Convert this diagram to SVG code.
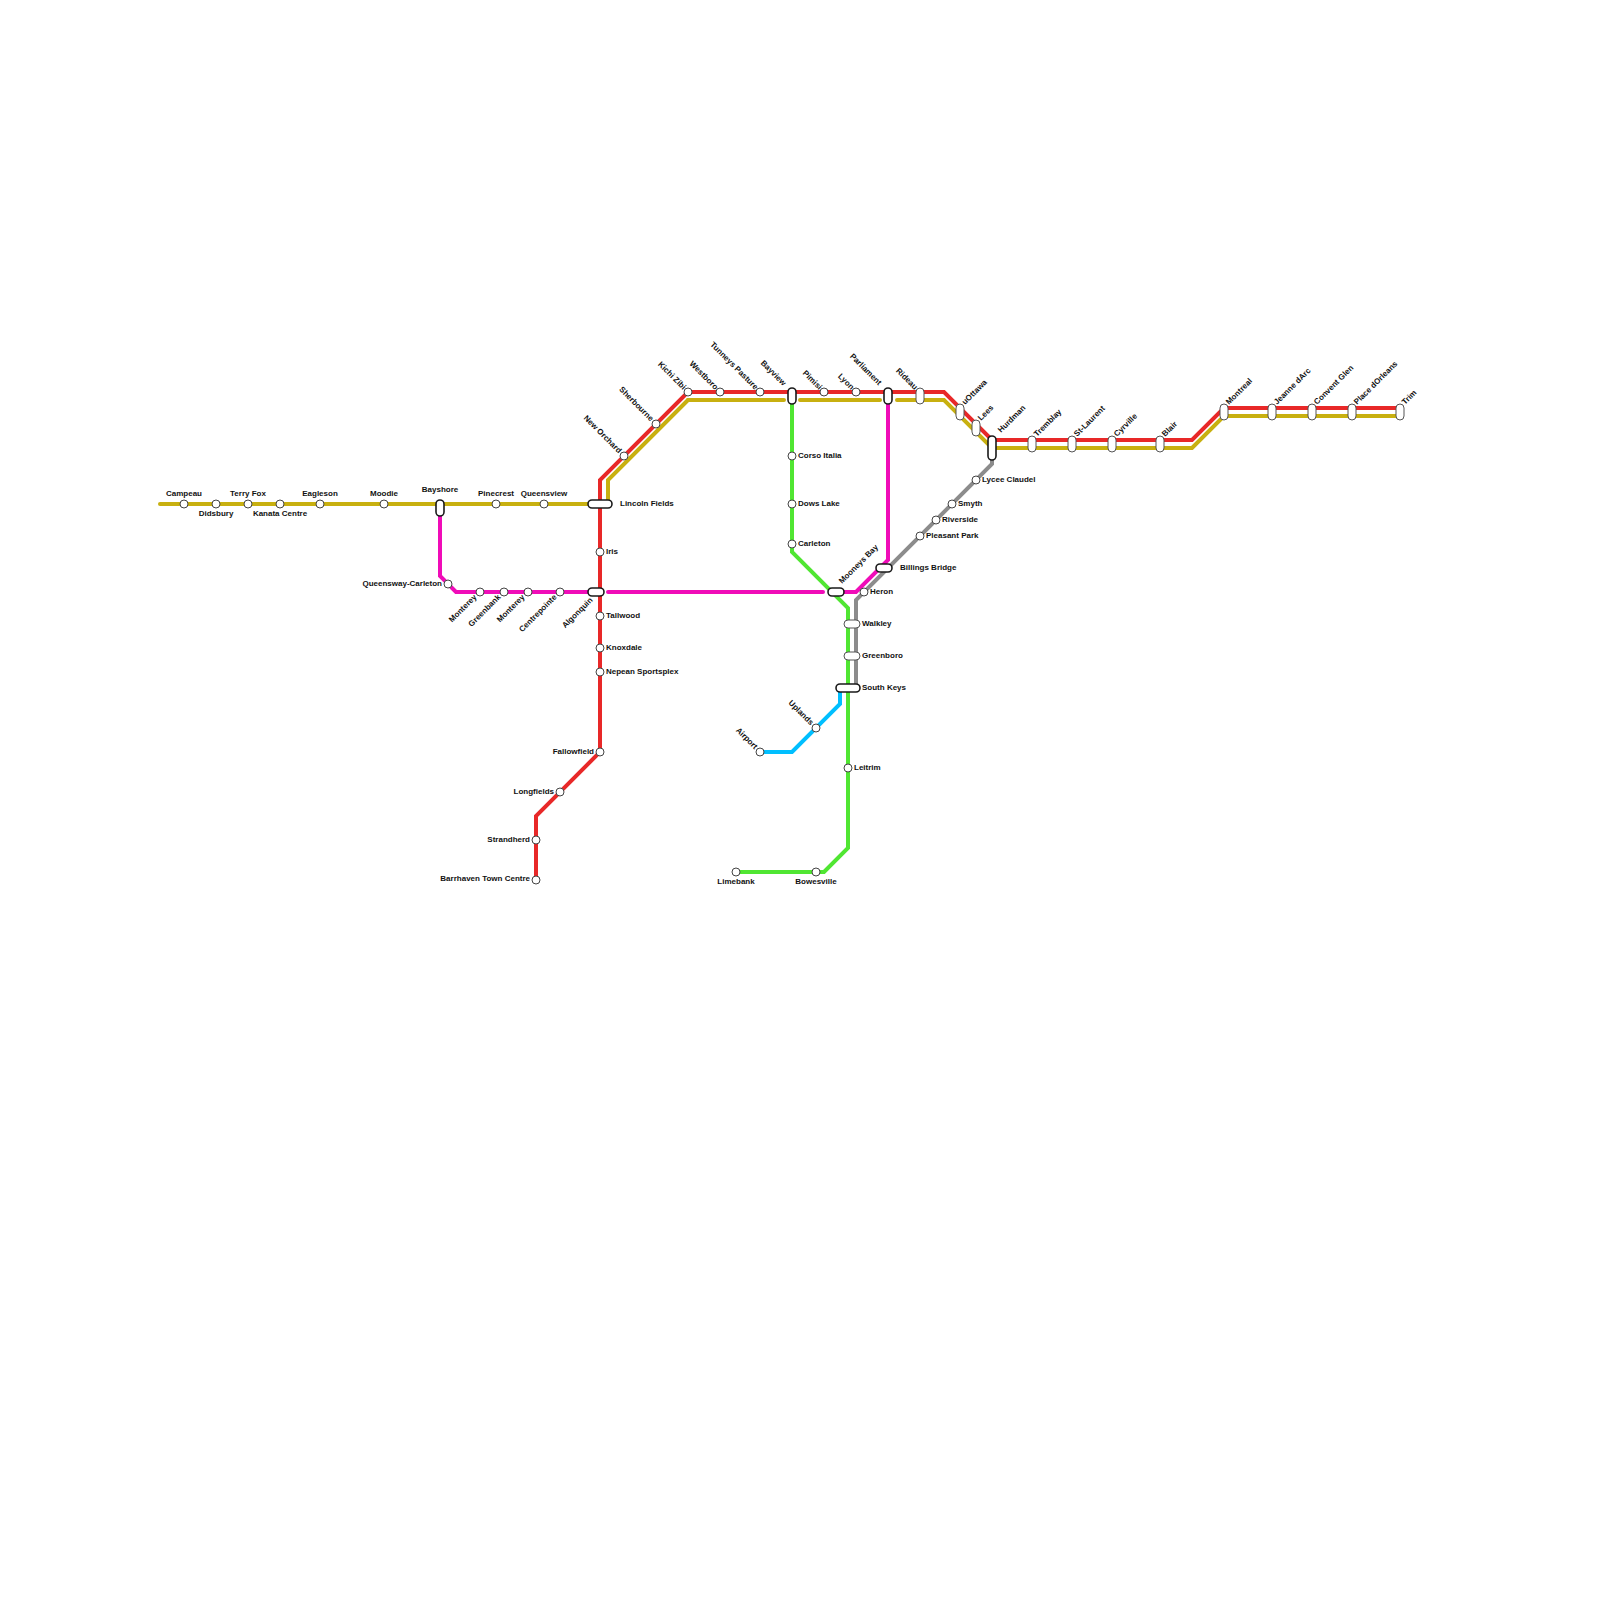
<svg xmlns="http://www.w3.org/2000/svg" width="1600" height="1600" viewBox="0 0 1600 1600">
<style>
.l{fill:none;stroke-width:4;stroke-linejoin:miter;stroke-linecap:round}
.red{stroke:#e82828}.gold{stroke:#c8b010}.mag{stroke:#f00cb8}.grn{stroke:#50e632}.gry{stroke:#8c8c8c}.blu{stroke:#00bfff}
.s{fill:#fff;stroke:#444;stroke-width:1}
.w{fill:#fff;stroke:#555;stroke-width:1}
.b{fill:#fff;stroke:#1a1a1a;stroke-width:1.6}
text{font-family:"Liberation Sans",Arial,sans-serif;font-weight:700;font-size:8px;fill:#111}
.m{text-anchor:middle}.e{text-anchor:end}
</style>
<rect width="1600" height="1600" fill="#fff"/>
<g id="connectors">
<path class="l gold" d="M160 504H590"/>
<path class="l gold" d="M688 400L608 480V500"/>
<path class="l gold" d="M688 400H784M800 400H880M897 400H944L992 448H1192L1224 416H1400"/>
<path class="l red" d="M1400 408H1224L1192 440H992L944 392H688L600 480V752L536 816V880"/>
<path class="l mag" d="M440 504V576L456 592H590M608 592H823M840 592H856L888 560V402"/>
<path class="l gry" d="M992 460V464L856 600V688"/>
<path class="l grn" d="M792 402V552L848 608V848L824 872H736"/>
<path class="l blu" d="M840 692V704L792 752H760"/>
</g>
<g id="campeau"><circle class="s" cx="184" cy="504" r="4"/><text class="m" x="184" y="496">Campeau</text></g>
<g id="didsbury"><circle class="s" cx="216" cy="504" r="4"/><text class="m" x="216" y="516">Didsbury</text></g>
<g id="terry-fox"><circle class="s" cx="248" cy="504" r="4"/><text class="m" x="248" y="496">Terry Fox</text></g>
<g id="kanata-centre"><circle class="s" cx="280" cy="504" r="4"/><text class="m" x="280" y="516">Kanata Centre</text></g>
<g id="eagleson"><circle class="s" cx="320" cy="504" r="4"/><text class="m" x="320" y="496">Eagleson</text></g>
<g id="moodie"><circle class="s" cx="384" cy="504" r="4"/><text class="m" x="384" y="496">Moodie</text></g>
<g id="bayshore"><rect class="b" x="436" y="500" width="8" height="16" rx="4"/><text class="m" x="440" y="492">Bayshore</text></g>
<g id="pinecrest"><circle class="s" cx="496" cy="504" r="4"/><text class="m" x="496" y="496">Pinecrest</text></g>
<g id="queensview"><circle class="s" cx="544" cy="504" r="4"/><text class="m" x="544" y="496">Queensview</text></g>
<g id="lincoln-fields"><rect class="b" x="588" y="500" width="24" height="8" rx="4"/><text x="620" y="506">Lincoln Fields</text></g>
<g id="iris"><circle class="s" cx="600" cy="552" r="4"/><text x="606" y="554">Iris</text></g>
<g id="algonquin"><rect class="b" x="588" y="588" width="16" height="8" rx="4"/><text class="e" dy="3" transform="translate(591 598.5) rotate(-45)">Algonquin</text></g>
<g id="tallwood"><circle class="s" cx="600" cy="616" r="4"/><text x="606" y="618">Tallwood</text></g>
<g id="knoxdale"><circle class="s" cx="600" cy="648" r="4"/><text x="606" y="650">Knoxdale</text></g>
<g id="nepean-sportsplex"><circle class="s" cx="600" cy="672" r="4"/><text x="606" y="674">Nepean Sportsplex</text></g>
<g id="fallowfield"><circle class="s" cx="600" cy="752" r="4"/><text class="e" x="594" y="754">Fallowfield</text></g>
<g id="longfields"><circle class="s" cx="560" cy="792" r="4"/><text class="e" x="554" y="794">Longfields</text></g>
<g id="strandherd"><circle class="s" cx="536" cy="840" r="4"/><text class="e" x="530" y="842">Strandherd</text></g>
<g id="barrhaven-town-centre"><circle class="s" cx="536" cy="880" r="4"/><text class="e" x="530" y="881">Barrhaven Town Centre</text></g>
<g id="queensway-carleton"><circle class="s" cx="448" cy="584" r="4"/><text class="e" x="442" y="586">Queensway-Carleton</text></g>
<g id="monterey-1"><circle class="s" cx="480" cy="592" r="4"/><text class="e" dy="3" transform="translate(475 595.5) rotate(-45)">Monterey</text></g>
<g id="greenbank"><circle class="s" cx="504" cy="592" r="4"/><text class="e" dy="3" transform="translate(499 595.5) rotate(-45)">Greenbank</text></g>
<g id="monterey-2"><circle class="s" cx="528" cy="592" r="4"/><text class="e" dy="3" transform="translate(523 595.5) rotate(-45)">Monterey</text></g>
<g id="centrepointe"><circle class="s" cx="560" cy="592" r="4"/><text class="e" dy="3" transform="translate(555 595.5) rotate(-45)">Centrepointe</text></g>
<g id="new-orchard"><circle class="s" cx="624" cy="456" r="4"/><text class="e" dy="3" transform="translate(620.5 451.5) rotate(45)">New Orchard</text></g>
<g id="sherbourne"><circle class="s" cx="656" cy="424" r="4"/><text class="e" dy="3" transform="translate(652.5 419.5) rotate(45)">Sherbourne</text></g>
<g id="kichi-zibi"><circle class="s" cx="688" cy="392" r="4"/><text class="e" dy="3" transform="translate(685 388) rotate(45)">Kichi Zibi</text></g>
<g id="westboro"><circle class="s" cx="720" cy="392" r="4"/><text class="e" dy="3" transform="translate(717 388) rotate(45)">Westboro</text></g>
<g id="tunneys-pasture"><circle class="s" cx="760" cy="392" r="4"/><text class="e" dy="3" transform="translate(757 388) rotate(45)">Tunneys Pasture</text></g>
<g id="bayview"><rect class="b" x="788" y="388" width="8" height="16" rx="4"/><text class="e" dy="3" transform="translate(785 384) rotate(45)">Bayview</text></g>
<g id="pimisi"><circle class="s" cx="824" cy="392" r="4"/><text class="e" dy="3" transform="translate(821 388) rotate(45)">Pimisi</text></g>
<g id="lyon"><circle class="s" cx="856" cy="392" r="4"/><text class="e" dy="3" transform="translate(853 388) rotate(45)">Lyon</text></g>
<g id="parliament"><rect class="b" x="884" y="388" width="8" height="16" rx="4"/><text class="e" dy="3" transform="translate(880.5 383.5) rotate(45)">Parliament</text></g>
<g id="rideau"><rect class="w" x="916" y="388" width="8" height="16" rx="4"/><text class="e" dy="3" transform="translate(916.5 388) rotate(45)">Rideau</text></g>
<g id="uottawa"><rect class="w" x="956" y="404" width="8" height="16" rx="4"/><text dy="3" transform="translate(963 403) rotate(-45)">uOttawa</text></g>
<g id="lees"><rect class="w" x="972" y="420" width="8" height="16" rx="4"/><text dy="3" transform="translate(979 419) rotate(-45)">Lees</text></g>
<g id="hurdman"><rect class="b" x="988" y="436" width="8" height="24" rx="4"/><text dy="3" transform="translate(999 431) rotate(-45)">Hurdman</text></g>
<g id="tremblay"><rect class="w" x="1028" y="436" width="8" height="16" rx="4"/><text dy="3" transform="translate(1035 435) rotate(-45)">Tremblay</text></g>
<g id="st-laurent"><rect class="w" x="1068" y="436" width="8" height="16" rx="4"/><text dy="3" transform="translate(1075 435) rotate(-45)">St-Laurent</text></g>
<g id="cyrville"><rect class="w" x="1108" y="436" width="8" height="16" rx="4"/><text dy="3" transform="translate(1115 435) rotate(-45)">Cyrville</text></g>
<g id="blair"><rect class="w" x="1156" y="436" width="8" height="16" rx="4"/><text dy="3" transform="translate(1163 435) rotate(-45)">Blair</text></g>
<g id="montreal"><rect class="w" x="1220" y="404" width="8" height="16" rx="4"/><text dy="3" transform="translate(1227 403) rotate(-45)">Montreal</text></g>
<g id="jeanne-darc"><rect class="w" x="1268" y="404" width="8" height="16" rx="4"/><text dy="3" transform="translate(1275 403) rotate(-45)">Jeanne dArc</text></g>
<g id="convent-glen"><rect class="w" x="1308" y="404" width="8" height="16" rx="4"/><text dy="3" transform="translate(1315 403) rotate(-45)">Convent Glen</text></g>
<g id="place-dorleans"><rect class="w" x="1348" y="404" width="8" height="16" rx="4"/><text dy="3" transform="translate(1355 403) rotate(-45)">Place dOrleans</text></g>
<g id="trim"><rect class="w" x="1396" y="404" width="8" height="16" rx="4"/><text dy="3" transform="translate(1403 403) rotate(-45)">Trim</text></g>
<g id="corso-italia"><circle class="s" cx="792" cy="456" r="4"/><text x="798" y="458">Corso Italia</text></g>
<g id="dows-lake"><circle class="s" cx="792" cy="504" r="4"/><text x="798" y="506">Dows Lake</text></g>
<g id="carleton"><circle class="s" cx="792" cy="544" r="4"/><text x="798" y="546">Carleton</text></g>
<g id="mooneys-bay"><rect class="b" x="828" y="588" width="16" height="8" rx="4"/><text dy="3" transform="translate(840 582) rotate(-45)">Mooneys Bay</text></g>
<g id="billings-bridge"><rect class="b" x="876" y="564" width="16" height="8" rx="4"/><text x="900" y="570">Billings Bridge</text></g>
<g id="heron"><circle class="s" cx="864" cy="592" r="4"/><text x="870" y="594">Heron</text></g>
<g id="lycee-claudel"><circle class="s" cx="976" cy="480" r="4"/><text x="982" y="482">Lycee Claudel</text></g>
<g id="smyth"><circle class="s" cx="952" cy="504" r="4"/><text x="958" y="506">Smyth</text></g>
<g id="riverside"><circle class="s" cx="936" cy="520" r="4"/><text x="942" y="522">Riverside</text></g>
<g id="pleasant-park"><circle class="s" cx="920" cy="536" r="4"/><text x="926" y="538">Pleasant Park</text></g>
<g id="walkley"><rect class="w" x="844" y="620" width="16" height="8" rx="4"/><text x="862" y="626">Walkley</text></g>
<g id="greenboro"><rect class="w" x="844" y="652" width="16" height="8" rx="4"/><text x="862" y="658">Greenboro</text></g>
<g id="south-keys"><rect class="b" x="836" y="684" width="24" height="8" rx="4"/><text x="862" y="690">South Keys</text></g>
<g id="uplands"><circle class="s" cx="816" cy="728" r="4"/><text class="e" dy="3" transform="translate(812.5 723.5) rotate(45)">Uplands</text></g>
<g id="airport"><circle class="s" cx="760" cy="752" r="4"/><text class="e" dy="3" transform="translate(756.5 747.5) rotate(45)">Airport</text></g>
<g id="leitrim"><circle class="s" cx="848" cy="768" r="4"/><text x="854" y="770">Leitrim</text></g>
<g id="bowesville"><circle class="s" cx="816" cy="872" r="4"/><text class="m" x="816" y="884">Bowesville</text></g>
<g id="limebank"><circle class="s" cx="736" cy="872" r="4"/><text class="m" x="736" y="884">Limebank</text></g>
</svg>
